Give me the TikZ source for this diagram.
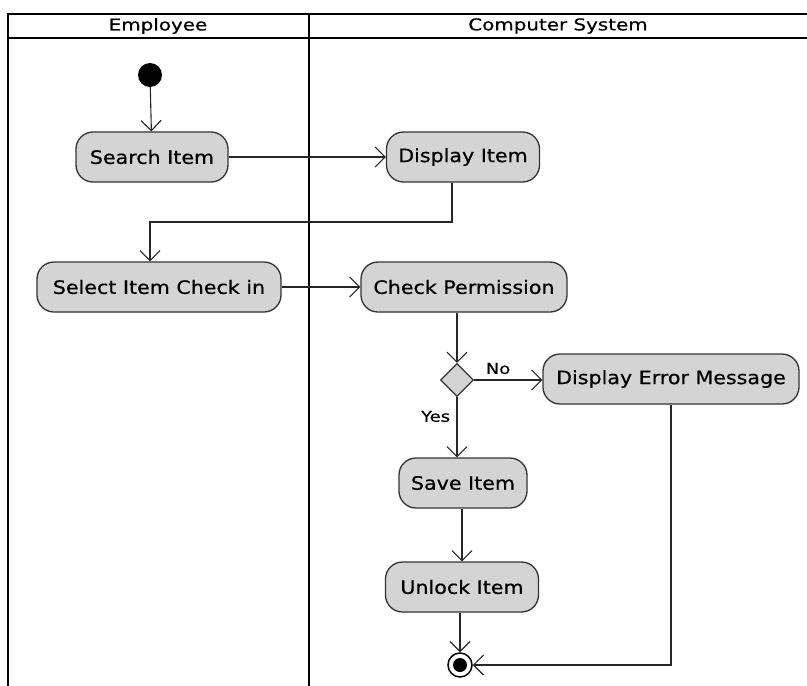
\documentclass[tikz,border=0pt]{standalone}
\usepackage{fontspec}
\setmainfont{DejaVu Sans}
\newfontfamily\widefont[FakeStretch=1.12,FakeBold=0.6]{DejaVu Sans}
\newfontfamily\lanefont[FakeStretch=1.22,FakeBold=0.5]{DejaVu Sans}
\newfontfamily\guardfont[FakeStretch=1.2,FakeBold=0.4]{DejaVu Sans}
\usetikzlibrary{arrows.meta,shapes.geometric}
\begin{document}
\begin{tikzpicture}[x=1pt,y=-1pt,
  action/.style={draw=black!80, line width=1.3pt, fill=black!17, rounded corners=17pt,
    inner sep=0pt, minimum height=50pt, font=\widefont\fontsize{18.4}{21}\selectfont},
  flow/.style={draw=black!85, line width=1.1pt, -{Straight Barb[length=10pt,width=20pt,line width=1.1pt]}},
  lane/.style={line width=2.4pt, black},
  lanetitle/.style={font=\lanefont\fontsize{16.3}{19}\selectfont},
  guard/.style={font=\guardfont\fontsize{15}{17}\selectfont}]
\useasboundingbox (0,0) rectangle (807,686);

% swimlane frame
\draw[lane] (8,686) -- (8,14) -- (807,14);
\draw[lane] (8,38) -- (807,38);
\draw[lane] (309,14) -- (309,686);
\node[lanetitle] (laneA) at (158,26) {Employee};
\node[lanetitle] (laneB) at (558,26) {Computer System};

% initial and final states
\node[circle, fill=black, minimum size=24pt, inner sep=0pt] (start) at (150,75) {};
\node[circle, draw=black, line width=1.5pt, fill=white, minimum size=24pt, inner sep=0pt] (stop) at (460,665) {};
\fill[black] (stop.center) circle (7pt);

% actions
\node[action, minimum width=152pt] (search) at (152,157) {Search Item};
\node[action, minimum width=153pt] (display) at (463,157) {Display Item};
\node[action, minimum width=244pt] (select) at (159,287) {Select Item Check in};
\node[action, minimum width=206pt] (check) at (464,287) {Check Permission};
\node[diamond, draw=black!80, line width=1.3pt, fill=black!17, minimum width=33pt, minimum height=33pt, inner sep=0pt] (dec) at (457,380) {};
\node[action, minimum width=256pt] (error) at (671,379) {Display Error Message};
\node[action, minimum width=128pt] (save) at (463,483) {Save Item};
\node[action, minimum width=153pt] (unlock) at (462,587) {Unlock Item};

% control flows
\draw[flow] (start) -- (search);
\draw[flow] (search) -- (display);
\draw[flow] (display.south -| 452,0) -- (452,222) -- (150,222) -- (select.north -| 150,0);
\draw[flow] (select) -- (check);
\draw[flow] (check.south -| dec) -- (dec.north);
\draw[flow] (dec.east) -- (error.west |- dec.east) node[guard, pos=0.35, above=2pt] {No};
\draw[flow] (dec.south) -- (save.north -| dec.south) node[guard, pos=0.32, left=3pt] {Yes};
\draw[flow] (save.south -| 462,0) -- (unlock.north -| 462,0);
\draw[flow] (unlock.south -| stop) -- (stop.north);
\draw[flow] (error.south) -- (error.south |- stop) -- (stop.east);
\end{tikzpicture}
\end{document}
